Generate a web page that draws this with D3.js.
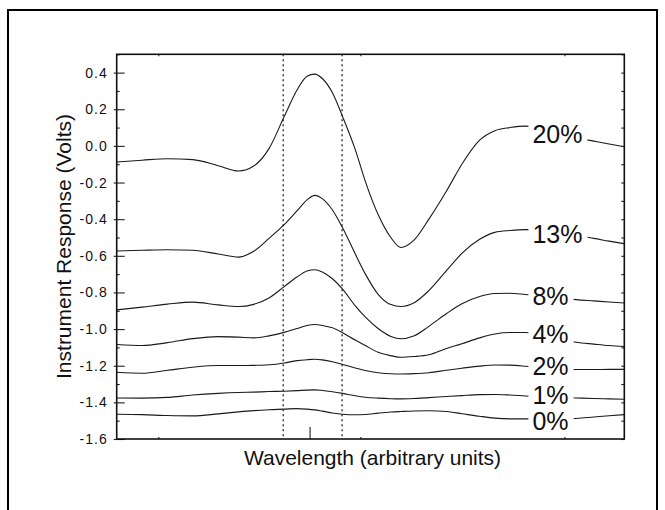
<!DOCTYPE html>
<html>
<head>
<meta charset="utf-8">
<script src="https://cdn.jsdelivr.net/npm/d3@7"></script>
<style>
  html, body { margin:0; padding:0; background:#fff; }
  svg { display:block; font-family: Arial, "Liberation Sans", sans-serif; }
  .curve { fill:none; stroke:#1a1a1a; stroke-width:1.1; }
  .frame { fill:none; stroke:#111; stroke-width:1.6; }
  .outer { fill:none; stroke:#000; stroke-width:2; }
  .marker { stroke:#111; stroke-width:1.2; stroke-dasharray:2,3; }
  .peak { stroke:#444; stroke-width:1.3; }
  .tick-lab { font-size:14px; letter-spacing:1px; fill:#111; }
  .axis-title { font-size:21px; fill:#111; }
  .conc { font-size:25px; fill:#111; }
  .ax path { display:none; }
  .ax line { stroke:#222; stroke-width:1.1; }
</style>
</head>
<body>
<div id="chart"></div>
<script>
// wavelength grid (arbitrary units, 0..100 across the plot)
const wavelength = [0, 5, 10, 15, 20, 24, 27, 30, 33, 35.5, 37.5, 39, 40.5, 42.5, 44.5, 47, 49, 51.5, 54, 56,
                    58.5, 61.5, 65, 68, 71.5, 74.5, 77.5, 80.5, 84, 87, 90.5, 94, 97, 100];

const resp20 = [-0.088, -0.078, -0.070, -0.075, -0.108, -0.137, -0.110, -0.015, 0.160, 0.304, 0.380, 0.392, 0.368, 0.290, 0.160, -0.020, -0.195,
                -0.375, -0.500, -0.555, -0.516, -0.400, -0.245, -0.100, 0.031, 0.083, 0.100, 0.108, 0.098, 0.075, 0.045, 0.026, 0.010, -0.005];
const resp13 = [-0.574, -0.570, -0.567, -0.570, -0.590, -0.607, -0.575, -0.505, -0.430, -0.355, -0.295, -0.270, -0.288, -0.350, -0.447, -0.590, -0.700,
                -0.810, -0.866, -0.877, -0.858, -0.790, -0.680, -0.587, -0.510, -0.472, -0.462, -0.457, -0.462, -0.475, -0.490, -0.505, -0.520, -0.534];
const resp8  = [-0.895, -0.880, -0.864, -0.853, -0.868, -0.877, -0.865, -0.830, -0.768, -0.716, -0.683, -0.676, -0.688, -0.725, -0.782, -0.873, -0.935,
                -0.997, -1.040, -1.053, -1.038, -0.985, -0.915, -0.862, -0.822, -0.806, -0.804, -0.811, -0.820, -0.830, -0.839, -0.846, -0.852, -0.858];
const resp4  = [-1.084, -1.090, -1.074, -1.052, -1.041, -1.044, -1.048, -1.037, -1.018, -0.997, -0.980, -0.975, -0.980, -0.993, -1.020, -1.060, -1.090,
                -1.127, -1.145, -1.154, -1.150, -1.140, -1.106, -1.080, -1.048, -1.027, -1.019, -1.019, -1.035, -1.055, -1.072, -1.082, -1.090, -1.095];
const resp2  = [-1.236, -1.241, -1.225, -1.208, -1.199, -1.199, -1.198, -1.195, -1.185, -1.172, -1.167, -1.165, -1.168, -1.178, -1.193, -1.212, -1.226,
                -1.238, -1.244, -1.245, -1.243, -1.238, -1.225, -1.214, -1.202, -1.196, -1.197, -1.203, -1.213, -1.219, -1.221, -1.221, -1.220, -1.220];
const resp1  = [-1.376, -1.377, -1.373, -1.360, -1.351, -1.346, -1.344, -1.341, -1.339, -1.336, -1.333, -1.332, -1.335, -1.342, -1.351, -1.364, -1.372,
                -1.377, -1.380, -1.381, -1.379, -1.374, -1.368, -1.363, -1.358, -1.357, -1.360, -1.365, -1.370, -1.373, -1.376, -1.379, -1.381, -1.383];
const resp0  = [-1.465, -1.467, -1.472, -1.474, -1.463, -1.452, -1.445, -1.440, -1.437, -1.434, -1.437, -1.441, -1.448, -1.458, -1.465, -1.468, -1.466,
                -1.459, -1.453, -1.450, -1.447, -1.446, -1.450, -1.462, -1.476, -1.486, -1.490, -1.490, -1.490, -1.490, -1.488, -1.480, -1.473, -1.467];

const concentrations = ["20%", "13%", "8%", "4%", "2%", "1%", "0%"];
const labelLevels    = [0.064, -0.479, -0.822, -1.026, -1.204, -1.362, -1.504];  // where each label sits (Volts)
const labelAt = 81.9;                       // wavelength of label left edge

const yTicks      = [0.4, 0.2, 0.0, -0.2, -0.4, -0.6, -0.8, -1.0, -1.2, -1.4, -1.6];
const yMinorTicks = [0.5, 0.3, 0.1, -0.1, -0.3, -0.5, -0.7, -0.9, -1.1, -1.3, -1.5];
const xTicks      = [8.2, 48, 88.2];
const windowEdges = [32.8, 44.4];           // dotted lines
const peakPos     = 38.1;                   // short tick on bottom axis

(function() {
    const series = [resp20, resp13, resp8, resp4, resp2, resp1, resp0];
    const margin = { top:54.3, right:40.7, bottom:71, left:116.7 };
    const totalW = 665, totalH = 510;
    const W = totalW - margin.left - margin.right, H = totalH - margin.top - margin.bottom;

    const root = d3.select("#chart").append("svg").attr("width", totalW).attr("height", totalH);
    root.append("rect").attr("class","outer").attr("x",8).attr("y",10).attr("width",649).attr("height",530);

    const svg = root.append("g").attr("transform", `translate(${margin.left},${margin.top})`);

    const x = d3.scaleLinear().domain([0, 100]).range([0, W]);
    const y = d3.scaleLinear().domain([-1.6, 0.5]).range([H, 0]);

    const line = d3.line().x((d,i) => x(wavelength[i])).y(d => y(d)).curve(d3.curveMonotoneX);

    svg.selectAll(".marker").data(windowEdges).enter().append("line")
        .attr("class","marker").attr("x1",d=>x(d)).attr("x2",d=>x(d)).attr("y1",0).attr("y2",H);

    svg.selectAll(".curve").data(series).enter().append("path")
        .attr("class","curve").attr("d", line);

    // concentration labels, knocking the curve out behind them
    concentrations.forEach((c, i) => {
        const g = svg.append("g");
        const t = g.append("text").attr("class","conc").attr("x", x(labelAt)).attr("y", y(labelLevels[i]))
            .attr("dy","0.36em").text(c);
        const bb = t.node().getBBox();
        g.insert("rect","text").attr("x", bb.x - 4).attr("y", y(labelLevels[i]) - 10)
            .attr("width", bb.width + 9).attr("height", 20).attr("fill","#fff");
    });

    svg.append("line").attr("class","peak").attr("x1",x(peakPos)).attr("x2",x(peakPos)).attr("y1",H).attr("y2",H-12);

    // left axis: labels + outward ticks, inward major and minor ticks
    const fmt = d => d.toFixed(1);
    svg.append("g").attr("class","ax").call(d3.axisLeft(y).tickValues(yTicks).tickSize(3).tickPadding(6).tickFormat(fmt))
        .selectAll("text").attr("class","tick-lab").attr("font-size",null).attr("font-family",null);
    svg.append("g").attr("class","ax").call(d3.axisRight(y).tickValues(yTicks).tickSize(8).tickFormat(""));
    svg.append("g").attr("class","ax").call(d3.axisRight(y).tickValues(yMinorTicks).tickSize(3).tickFormat(""));
    svg.append("g").attr("class","ax").attr("transform",`translate(${W},0)`)
        .call(d3.axisLeft(y).tickValues(yTicks.concat(yMinorTicks)).tickSize(3).tickFormat(""));
    svg.append("g").attr("class","ax").attr("transform",`translate(0,${H})`)
        .call(d3.axisTop(x).tickValues(xTicks).tickSize(2).tickFormat(""));
    svg.append("g").attr("class","ax").call(d3.axisBottom(x).tickValues(xTicks).tickSize(2).tickFormat(""));

    svg.append("rect").attr("class","frame").attr("width",W).attr("height",H);

    svg.append("text").attr("class","axis-title").attr("x", W/2 + 2).attr("y", H + 26)
        .attr("text-anchor","middle").text("Wavelength (arbitrary units)");
    svg.append("text").attr("class","axis-title").attr("transform","rotate(-90)")
        .attr("x", -(246.5 - margin.top)).attr("y", 71 - margin.left)
        .attr("text-anchor","middle").text("Instrument Response (Volts)");
})();
</script>
</body>
</html>
